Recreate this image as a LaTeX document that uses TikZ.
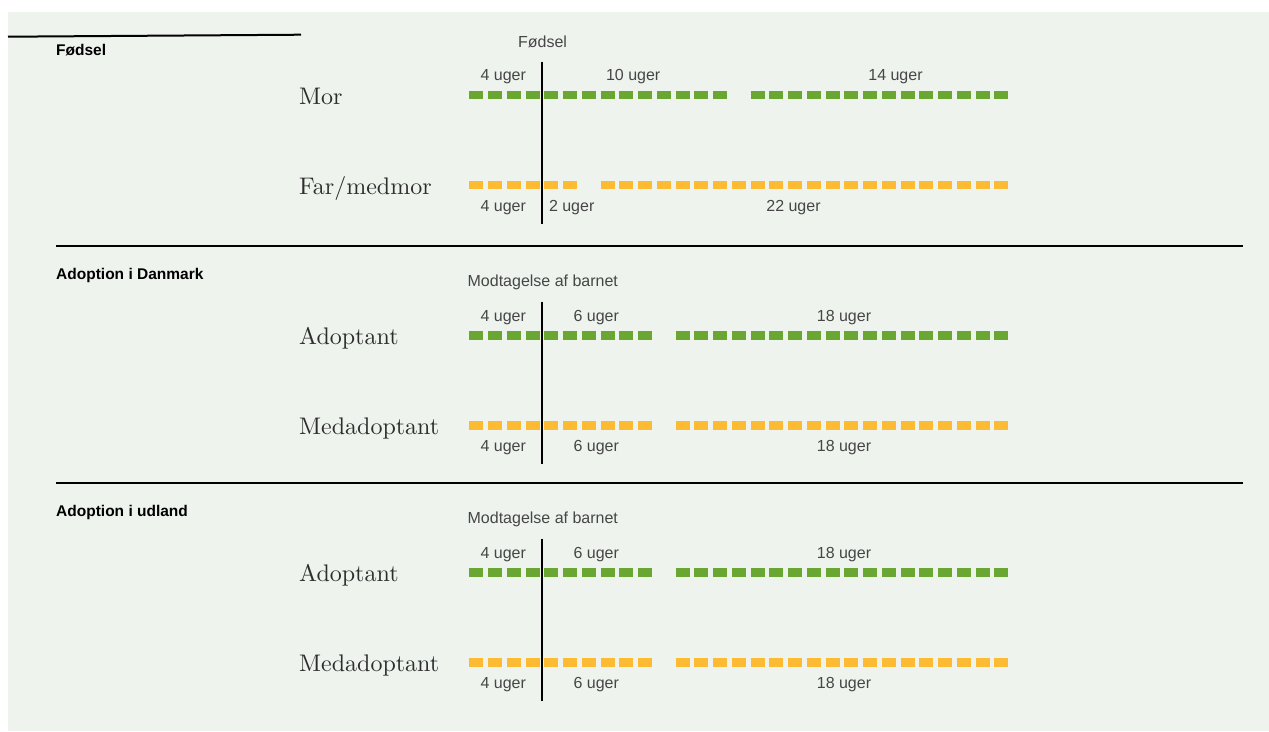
\documentclass[tikz,border=0pt]{standalone}
\usepackage{fontspec}
\newfontfamily\labfont{Liberation Sans}
\newfontfamily\rowfont{lmroman10-regular.otf}
\definecolor{bg}{RGB}{238,243,238}
\definecolor{barg}{RGB}{106,166,50}
\definecolor{baro}{RGB}{252,187,51}
\definecolor{labgray}{RGB}{70,70,70}
\definecolor{rowgray}{RGB}{45,45,45}
\newcommand\wkbar[4]{\draw[#4] ({469.3+#2*18.75},#1) -- ({469.3+#2*18.75+(#3-1)*18.75+14},#1);}
\begin{document}
\begin{tikzpicture}[x=1pt,y=-1pt,
  wk/.style={line width=8.7pt, dash pattern=on 14pt off 4.75pt},
  grn/.style={wk, draw=barg},
  org/.style={wk, draw=baro},
  small/.style={font=\labfont\fontsize{16}{19}\selectfont, text=labgray, anchor=base, inner sep=0pt},
  rowlab/.style={font=\rowfont\fontsize{24}{28}\selectfont, text=rowgray, anchor=base west, inner sep=0pt},
  sect/.style={font=\labfont\bfseries\fontsize{15.5}{18}\selectfont, anchor=base west, inner sep=0pt},
  rulel/.style={line width=2pt, draw=black},
]
\useasboundingbox (0,0) rectangle (1269,731);
\fill[white] (0,0) rectangle (1269,731);
\fill[bg] (8,12) rectangle (1269,731);

% ---------- Section 1: Fødsel ----------
\coordinate (r0a) at (8,36.7);
\coordinate (r0b) at (301,34.7);
\draw[rulel] (r0a) -- (r0b);
\node[sect] (t1) at (56,55) {Fødsel};
\node[small] (h1) at (542.5,47.7) {Fødsel};
\node[rowlab] (mor) at (299,104) {Mor};
\node[rowlab] (far) at (299,194) {Far/medmor};
\wkbar{95}{0}{14}{grn}
\wkbar{95}{15}{14}{grn}
\wkbar{185}{0}{6}{org}
\wkbar{185}{7}{22}{org}
\coordinate (v1t) at (542,61.7);
\coordinate (v1b) at (542,224);
\draw[rulel] (v1t) -- (v1b);
\node[small] (m4) at (503.3,80) {4 uger};
\node[small] (m10) at (633.2,80) {10 uger};
\node[small] (m14) at (895.5,80) {14 uger};
\node[small] (f4) at (503.3,211.5) {4 uger};
\node[small] (f2) at (571.7,211.5) {2 uger};
\node[small] (f22) at (793.5,211.5) {22 uger};

% ---------- Section 2: Adoption i Danmark ----------
\coordinate (r1a) at (56,246);
\coordinate (r1b) at (1243,246);
\draw[rulel] (r1a) -- (r1b);
\node[sect] (t2) at (56,279.3) {Adoption i Danmark};
\node[small] (h2) at (542.8,286.7) {Modtagelse af barnet};
\node[rowlab] (a2) at (299,344.5) {Adoptant};
\node[rowlab] (ma2) at (299,434.5) {Medadoptant};
\wkbar{335.7}{0}{10}{grn}
\wkbar{335.7}{11}{18}{grn}
\wkbar{425.7}{0}{10}{org}
\wkbar{425.7}{11}{18}{org}
\coordinate (v2t) at (542,301.7);
\coordinate (v2b) at (542,464);
\draw[rulel] (v2t) -- (v2b);
\node[small] (a24) at (503.3,321) {4 uger};
\node[small] (a26) at (596.3,321) {6 uger};
\node[small] (a218) at (844,321) {18 uger};
\node[small] (b24) at (503.3,451.7) {4 uger};
\node[small] (b26) at (596.3,451.7) {6 uger};
\node[small] (b218) at (844,451.7) {18 uger};

% ---------- Section 3: Adoption i udland ----------
\coordinate (r2a) at (56,483);
\coordinate (r2b) at (1243,483);
\draw[rulel] (r2a) -- (r2b);
\node[sect] (t3) at (56,516.3) {Adoption i udland};
\node[small] (h3) at (542.8,523.7) {Modtagelse af barnet};
\node[rowlab] (a3) at (299,581.5) {Adoptant};
\node[rowlab] (ma3) at (299,671.5) {Medadoptant};
\wkbar{572.7}{0}{10}{grn}
\wkbar{572.7}{11}{18}{grn}
\wkbar{662.7}{0}{10}{org}
\wkbar{662.7}{11}{18}{org}
\coordinate (v3t) at (542,538.7);
\coordinate (v3b) at (542,701);
\draw[rulel] (v3t) -- (v3b);
\node[small] (a34) at (503.3,558) {4 uger};
\node[small] (a36) at (596.3,558) {6 uger};
\node[small] (a318) at (844,558) {18 uger};
\node[small] (b34) at (503.3,688.7) {4 uger};
\node[small] (b36) at (596.3,688.7) {6 uger};
\node[small] (b318) at (844,688.7) {18 uger};
\end{tikzpicture}
\end{document}
